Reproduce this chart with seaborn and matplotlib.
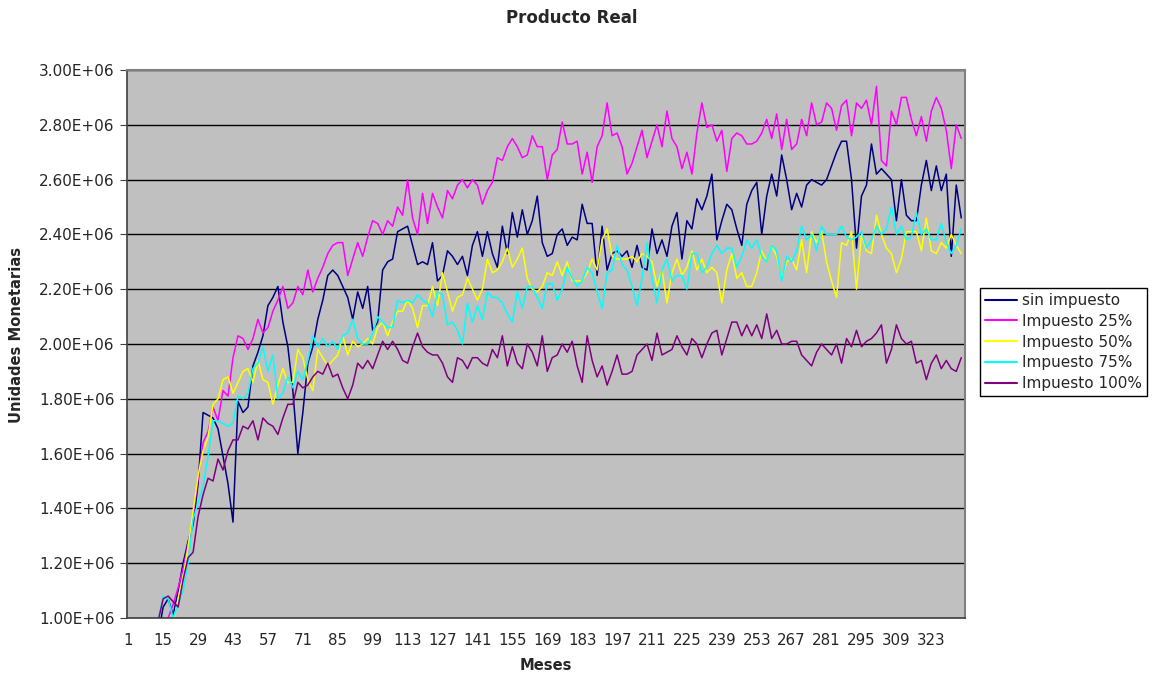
import numpy as np
import pandas as pd
import matplotlib
matplotlib.use("Agg")
import matplotlib.pyplot as plt
from matplotlib import ticker
from matplotlib.lines import Line2D
import seaborn as sns

# months 1, 3, 5, ... 335 (in millions)
months = np.arange(1, 336, 2)

series_names = ["sin impuesto", "Impuesto 25%", "Impuesto 50%", "Impuesto 75%", "Impuesto 100%"]
series_colors = ["#000080", "#FF00FF", "#FFFF00", "#00FFFF", "#800080"]

sin_impuesto = [
    0.55, 0.62, 0.70, 0.76, 0.82, 0.88, 0.94,
    1.04, 1.07, 1.01, 1.10, 1.20, 1.28, 1.34, 1.49, 1.75, 1.74,
    1.73, 1.69, 1.59, 1.49, 1.35, 1.79, 1.75, 1.77, 1.92, 1.97,
    2.03, 2.14, 2.17, 2.21, 2.08, 1.99, 1.83, 1.60, 1.75, 1.93,
    1.99, 2.09, 2.16, 2.25, 2.27, 2.25, 2.21, 2.17, 2.09, 2.19,
    2.13, 2.21, 2.05, 2.08, 2.27, 2.30, 2.31, 2.41, 2.42, 2.43,
    2.36, 2.29, 2.30, 2.29, 2.37, 2.23, 2.25, 2.34, 2.32, 2.29,
    2.32, 2.25, 2.36, 2.41, 2.32, 2.41, 2.33, 2.28, 2.43, 2.33,
    2.48, 2.39, 2.49, 2.40, 2.45, 2.54, 2.37, 2.32, 2.33, 2.40,
    2.42, 2.36, 2.39, 2.38, 2.51, 2.44, 2.44, 2.25, 2.43, 2.27,
    2.33, 2.34, 2.32, 2.34, 2.28, 2.36, 2.28, 2.27, 2.42, 2.33,
    2.38, 2.32, 2.43, 2.48, 2.31, 2.45, 2.42, 2.53, 2.49, 2.54,
    2.62, 2.38, 2.45, 2.51, 2.49, 2.42, 2.36, 2.51, 2.56, 2.59,
    2.40, 2.54, 2.62, 2.54, 2.69, 2.60, 2.49, 2.55, 2.50, 2.58,
    2.60, 2.59, 2.58, 2.60, 2.65, 2.70, 2.74, 2.74, 2.60, 2.35,
    2.54, 2.58, 2.73, 2.62, 2.64, 2.62, 2.60, 2.45, 2.60, 2.47,
    2.45, 2.45, 2.58, 2.67, 2.56, 2.65, 2.56, 2.62, 2.32, 2.58, 2.46,
]

impuesto_25 = [
    0.50, 0.56, 0.63, 0.70, 0.77, 0.84, 0.91,
    0.97, 1.00, 1.05, 1.11, 1.18, 1.27, 1.37, 1.51, 1.64, 1.68,
    1.77, 1.72, 1.83, 1.81, 1.95, 2.03, 2.02, 1.98, 2.02, 2.09,
    2.04, 2.06, 2.12, 2.16, 2.21, 2.13, 2.15, 2.21, 2.18, 2.27,
    2.19, 2.24, 2.28, 2.33, 2.36, 2.37, 2.37, 2.25, 2.31, 2.37,
    2.32, 2.39, 2.45, 2.44, 2.40, 2.45, 2.43, 2.50, 2.47, 2.60,
    2.46, 2.40, 2.55, 2.44, 2.55, 2.50, 2.46, 2.56, 2.53, 2.58,
    2.60, 2.57, 2.60, 2.58, 2.51, 2.56, 2.59, 2.68, 2.67, 2.72,
    2.75, 2.72, 2.68, 2.69, 2.76, 2.72, 2.72, 2.60, 2.69, 2.71,
    2.81, 2.73, 2.73, 2.74, 2.62, 2.70, 2.59, 2.72, 2.76, 2.88,
    2.76, 2.77, 2.72, 2.62, 2.66, 2.72, 2.78, 2.68, 2.74, 2.80,
    2.72, 2.85, 2.75, 2.72, 2.64, 2.70, 2.62, 2.77, 2.88, 2.79,
    2.80, 2.74, 2.78, 2.63, 2.75, 2.77, 2.76, 2.73, 2.73, 2.74,
    2.77, 2.82, 2.75, 2.84, 2.71, 2.82, 2.71, 2.73, 2.82, 2.76,
    2.88, 2.80, 2.81, 2.88, 2.86, 2.78, 2.87, 2.89, 2.76, 2.88,
    2.86, 2.89, 2.80, 2.94, 2.67, 2.65, 2.85, 2.80, 2.90, 2.90,
    2.82, 2.76, 2.83, 2.74, 2.85, 2.90, 2.86, 2.78, 2.64, 2.80, 2.75,
]

impuesto_50 = [
    0.45, 0.52, 0.58, 0.65, 0.72, 0.80, 0.87,
    0.92, 0.95, 0.98, 1.07, 1.15, 1.26, 1.39, 1.52, 1.61, 1.66,
    1.78, 1.80, 1.87, 1.88, 1.82, 1.86, 1.90, 1.91, 1.86, 1.94,
    1.87, 1.86, 1.78, 1.85, 1.91, 1.86, 1.86, 1.98, 1.95, 1.87,
    1.83, 1.98, 1.95, 1.92, 1.94, 1.96, 2.03, 1.96, 2.01, 1.99,
    2.00, 2.02, 2.00, 2.06, 2.08, 2.03, 2.08, 2.12, 2.12, 2.16,
    2.13, 2.06, 2.14, 2.14, 2.21, 2.14, 2.26, 2.19, 2.12, 2.17,
    2.18, 2.24, 2.20, 2.16, 2.20, 2.31, 2.26, 2.27, 2.30, 2.35,
    2.28, 2.31, 2.35, 2.24, 2.20, 2.19, 2.21, 2.26, 2.25, 2.30,
    2.25, 2.30, 2.23, 2.23, 2.23, 2.26, 2.31, 2.27, 2.38, 2.42,
    2.32, 2.31, 2.31, 2.31, 2.32, 2.30, 2.33, 2.32, 2.30, 2.21,
    2.27, 2.15, 2.26, 2.31, 2.25, 2.28, 2.34, 2.27, 2.31, 2.26,
    2.28, 2.26, 2.15, 2.27, 2.33, 2.24, 2.26, 2.21, 2.21, 2.26,
    2.34, 2.30, 2.36, 2.32, 2.24, 2.30, 2.31, 2.27, 2.38, 2.26,
    2.41, 2.37, 2.41, 2.30, 2.23, 2.17, 2.37, 2.36, 2.41, 2.20,
    2.40, 2.34, 2.33, 2.47, 2.40, 2.35, 2.33, 2.26, 2.31, 2.41,
    2.41, 2.41, 2.34, 2.46, 2.34, 2.33, 2.37, 2.35, 2.40, 2.36, 2.33,
]

impuesto_75 = [
    0.50, 0.57, 0.64, 0.71, 0.79, 0.87, 0.99,
    1.08, 1.07, 1.00, 1.05, 1.10, 1.20, 1.36, 1.42, 1.48, 1.59,
    1.72, 1.72, 1.71, 1.70, 1.71, 1.81, 1.80, 1.82, 1.91, 1.93,
    1.99, 1.90, 1.96, 1.80, 1.82, 1.88, 1.84, 1.90, 1.87, 1.94,
    2.03, 1.99, 2.02, 1.99, 2.01, 1.98, 2.03, 2.04, 2.09, 2.02,
    2.00, 2.00, 2.04, 2.10, 2.08, 2.06, 2.06, 2.16, 2.15, 2.16,
    2.15, 2.18, 2.16, 2.15, 2.10, 2.19, 2.18, 2.07, 2.08, 2.05,
    2.00, 2.15, 2.08, 2.14, 2.09, 2.19, 2.17, 2.17, 2.15, 2.11,
    2.08, 2.19, 2.13, 2.21, 2.21, 2.17, 2.13, 2.22, 2.22, 2.16,
    2.20, 2.28, 2.24, 2.21, 2.23, 2.28, 2.26, 2.19, 2.13, 2.26,
    2.27, 2.36, 2.29, 2.27, 2.21, 2.14, 2.24, 2.37, 2.24, 2.15,
    2.27, 2.31, 2.23, 2.25, 2.25, 2.20, 2.33, 2.33, 2.26, 2.28,
    2.33, 2.36, 2.33, 2.35, 2.35, 2.28, 2.32, 2.38, 2.35, 2.38,
    2.32, 2.30, 2.36, 2.34, 2.23, 2.32, 2.30, 2.34, 2.43, 2.38,
    2.40, 2.34, 2.43, 2.40, 2.40, 2.40, 2.43, 2.39, 2.38, 2.39,
    2.41, 2.35, 2.38, 2.43, 2.40, 2.42, 2.50, 2.40, 2.43, 2.38,
    2.39, 2.48, 2.40, 2.42, 2.38, 2.38, 2.44, 2.37, 2.33, 2.36, 2.42,
]

impuesto_100 = [
    0.60, 0.66, 0.72, 0.78, 0.84, 0.90, 0.99,
    1.07, 1.08, 1.06, 1.04, 1.14, 1.22, 1.24, 1.37, 1.45, 1.51,
    1.50, 1.58, 1.54, 1.61, 1.65, 1.65, 1.70, 1.69, 1.72, 1.65,
    1.73, 1.71, 1.70, 1.67, 1.73, 1.78, 1.78, 1.86, 1.84, 1.85,
    1.88, 1.90, 1.89, 1.93, 1.88, 1.89, 1.84, 1.80, 1.85, 1.93,
    1.91, 1.94, 1.91, 1.96, 2.01, 1.98, 2.01, 1.98, 1.94, 1.93,
    1.99, 2.04, 1.99, 1.97, 1.96, 1.96, 1.93, 1.88, 1.86, 1.95,
    1.94, 1.91, 1.95, 1.95, 1.93, 1.92, 1.98, 1.95, 2.03, 1.92,
    1.99, 1.93, 1.91, 2.00, 1.97, 1.92, 2.03, 1.90, 1.95, 1.96,
    2.00, 1.97, 2.01, 1.92, 1.86, 2.03, 1.94, 1.88, 1.92, 1.85,
    1.90, 1.96, 1.89, 1.89, 1.90, 1.96, 1.98, 2.00, 1.94, 2.04,
    1.96, 1.97, 1.98, 2.03, 1.99, 1.96, 2.02, 2.00, 1.95, 2.00,
    2.04, 2.05, 1.96, 2.02, 2.08, 2.08, 2.03, 2.07, 2.03, 2.07,
    2.02, 2.11, 2.02, 2.05, 2.00, 2.00, 2.01, 2.01, 1.96, 1.94,
    1.92, 1.97, 2.00, 1.98, 1.96, 2.00, 1.93, 2.02, 1.99, 2.05,
    1.99, 2.01, 2.02, 2.04, 2.07, 1.93, 1.98, 2.07, 2.02, 2.00,
    2.01, 1.93, 1.94, 1.87, 1.93, 1.96, 1.91, 1.94, 1.91, 1.90, 1.95,
]

x_labels = [1, 15, 29, 43, 57, 71, 85, 99, 113, 127, 141, 155, 169, 183, 197,
            211, 225, 239, 253, 267, 281, 295, 309, 323]

# long-form table for seaborn
all_series = [sin_impuesto, impuesto_25, impuesto_50, impuesto_75, impuesto_100]
df = pd.concat([
    pd.DataFrame({"mes": months, "valor": np.array(vals) * 1e6, "serie": name})
    for name, vals in zip(series_names, all_series)
])

sns.set_style("white")
# the original text is rather wide, DejaVu Sans matches its width best
plt.rcParams["font.family"] = ["DejaVu Sans"]

fig = plt.figure(figsize=(11.55, 6.79), dpi=100)
ax = fig.add_axes([127 / 1155, 1 - 618 / 679, (965 - 127) / 1155, (618 - 70) / 679])
ax.set_facecolor("#C0C0C0")

sns.lineplot(
    data=df, x="mes", y="valor", hue="serie",
    hue_order=series_names, palette=series_colors,
    linewidth=1.1, errorbar=None, legend=False, ax=ax,
)

ax.set_ylim(1e6, 3e6)
ax.set_xlim(0.5, 336.5)

# y axis
ax.yaxis.set_major_locator(ticker.MultipleLocator(2e5))
ax.yaxis.set_major_formatter(ticker.FuncFormatter(lambda v, p: f"{v:.2E}"))
ax.grid(axis="y", color="black", linewidth=1.0)
ax.set_axisbelow(True)

# x axis: category-style ticks at every month, labels every 14
ax.xaxis.set_major_locator(ticker.FixedLocator(x_labels))
ax.xaxis.set_minor_locator(ticker.MultipleLocator(1, offset=0.5))
ax.tick_params(axis="x", which="major", length=0, pad=11, labelsize=10.8)
ax.tick_params(axis="x", which="minor", length=4, width=0.8, color="#404040", direction="out")
ax.tick_params(axis="y", which="major", length=5, width=0.8, color="#404040",
               direction="out", labelsize=11, left=True, pad=4)

for side in ["left", "bottom"]:
    ax.spines[side].set_color("#404040")
    ax.spines[side].set_linewidth(1.2)
for side in ["top", "right"]:
    ax.spines[side].set_color("#808080")
    ax.spines[side].set_linewidth(1.5)

ax.set_xlabel("")
ax.set_ylabel("")

fig.text(572 / 1155, 1 - 18 / 679, "Producto Real", ha="center", va="center",
         fontsize=12, fontweight="bold")
fig.text(546 / 1155, 1 - 665 / 679, "Meses", ha="center", va="center",
         fontsize=10.6, fontweight="bold")
fig.text(17 / 1155, 1 - 335 / 679, "Unidades Monetarias", ha="center", va="center",
         rotation=90, fontsize=10.6, fontweight="bold")

handles = [Line2D([0], [0], color=c, linewidth=1.5) for c in series_colors]
leg = fig.legend(
    handles, series_names, loc="center left",
    bbox_to_anchor=(980 / 1155, 1 - 342 / 679),
    frameon=True, fancybox=False, edgecolor="black", framealpha=1,
    fontsize=11, handlelength=2.1, handletextpad=0.3, labelspacing=0.38,
    borderpad=0.35, borderaxespad=0,
)
leg.get_frame().set_linewidth(1.0)

fig.savefig("out.png", dpi=100)
